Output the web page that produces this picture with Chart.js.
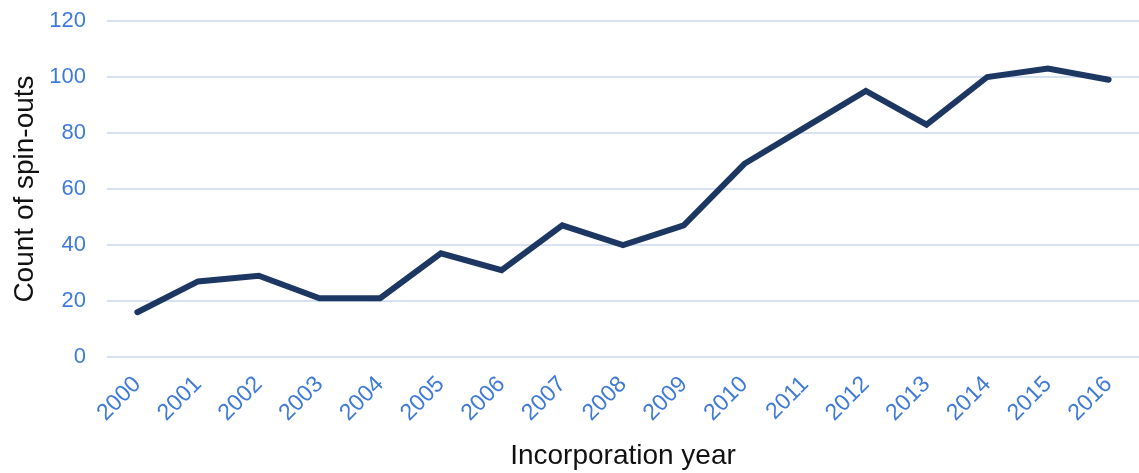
<!DOCTYPE html>
<html>
<head>
<meta charset="utf-8">
<script src="https://cdn.jsdelivr.net/npm/chart.js@4"></script>
<style>
  html, body { margin: 0; padding: 0; background: #fff; }
  #wrap { width: 1139px; height: 473px; }
</style>
</head>
<body>
<div id="wrap"><canvas id="spinout-chart"></canvas></div>
<script>
// data
const years = ["2000", "2001", "2002", "2003", "2004", "2005", "2006", "2007", "2008",
  "2009", "2010", "2011", "2012", "2013", "2014", "2015", "2016"];
const spinOuts = [16, 27, 29, 21, 21, 37, 31, 47, 40, 47, 69, 82, 95, 83, 100, 103, 99];
const yTicks = [0, 20, 40, 60, 80, 100, 120];

const tickBlue = "#3f7ad8";
const fontFamily = "'Liberation Sans', Arial, sans-serif";

const ctx = document.getElementById("spinout-chart").getContext("2d");

new Chart(ctx, {
  type: "line",
  data: {
    labels: years,
    datasets: [{
      label: "Count of spin-outs",
      data: spinOuts,
      borderColor: "#1d3763",
      borderWidth: 6,
      borderCapStyle: "round",
      pointRadius: 0,
      tension: 0,
      fill: false
    }]
  },
  options: {
    responsive: true,
    maintainAspectRatio: false,
    animation: false,
    layout: { padding: { top: 21, right: -9, bottom: 0, left: 0 } },
    plugins: {
      legend: { display: false },
      tooltip: { enabled: false }
    },
    scales: {
      x: {
        offset: true,
        grid: { display: false },
        border: { display: false },
        ticks: {
          color: tickBlue,
          font: { family: fontFamily, size: 23 },
          minRotation: 45,
          maxRotation: 45,
          padding: 6
        },
        title: {
          display: true,
          text: "Incorporation year",
          color: "#111",
          font: { family: fontFamily, size: 28 },
          padding: { top: 0, bottom: 0 }
        },
        afterFit: (scale) => { scale.height = 116; }
      },
      y: {
        min: 0,
        max: 120,
        afterBuildTicks: (scale) => { scale.ticks = yTicks.map(v => ({ value: v })); },
        grid: { color: "#d7e1f4", lineWidth: 2, drawTicks: false },
        border: { display: false },
        ticks: {
          color: tickBlue,
          font: { family: fontFamily, size: 22 },
          padding: 21
        },
        title: {
          display: true,
          text: "Count of spin-outs",
          color: "#111",
          font: { family: fontFamily, size: 28 },
          padding: { top: 8, bottom: 0 }
        },
        afterFit: (scale) => {
          scale.width = 107;
          // let the top label hang over the padding instead of pushing the plot down
          scale.paddingTop = 0;
          scale.paddingBottom = 0;
        }
      }
    }
  }
});
</script>
</body>
</html>
